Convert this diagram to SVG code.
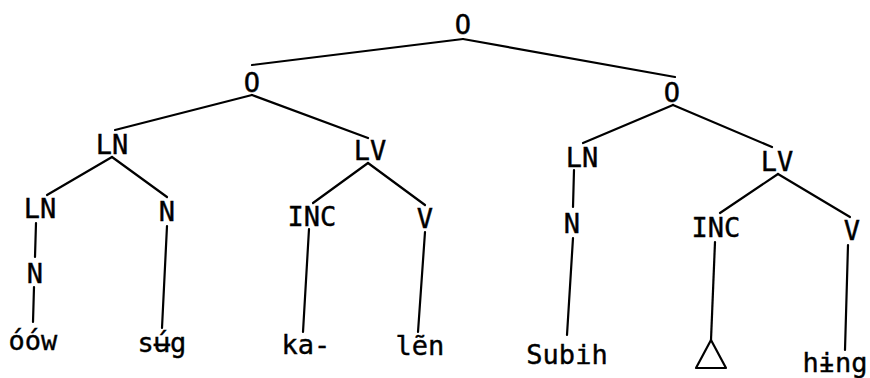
<svg xmlns="http://www.w3.org/2000/svg" width="870" height="378" viewBox="0 0 870 378">
  <style>
    .lbl { font-family: "DejaVu Sans Mono", "Liberation Mono", monospace; font-size: 27px; fill: #000; stroke: #000; stroke-width: 0.4; text-anchor: middle; }
    .edge { stroke: #000; stroke-width: 2.2; fill: none; stroke-linecap: round; }
  </style>
  <rect width="870" height="378" fill="#fff"/>

  <!-- connectors -->
  <g id="edges" class="edge">
    <line x1="463" y1="39" x2="252" y2="65"/>
    <line x1="463" y1="39" x2="675" y2="77"/>
    <line x1="252" y1="95" x2="115" y2="130"/>
    <line x1="252" y1="95" x2="368" y2="138"/>
    <line x1="112" y1="157" x2="47" y2="195"/>
    <line x1="112" y1="157" x2="167" y2="197"/>
    <line x1="368" y1="163" x2="313" y2="203"/>
    <line x1="368" y1="163" x2="425" y2="205"/>
    <line x1="36" y1="223" x2="35" y2="257"/>
    <line x1="34" y1="287" x2="33" y2="322"/>
    <line x1="167" y1="226" x2="162" y2="328"/>
    <line x1="309" y1="229" x2="303" y2="332"/>
    <line x1="425" y1="232" x2="418" y2="332"/>
    <line x1="673" y1="105" x2="583" y2="143"/>
    <line x1="673" y1="105" x2="772" y2="147"/>
    <line x1="574" y1="170" x2="573" y2="207"/>
    <line x1="573" y1="238" x2="567" y2="335"/>
    <line x1="778" y1="174" x2="720" y2="213"/>
    <line x1="778" y1="174" x2="850" y2="217"/>
    <line x1="715" y1="242" x2="711" y2="340"/>
    <line x1="848" y1="245" x2="845" y2="350"/>
  </g>

  <!-- nodes -->
  <g id="o-root"><text class="lbl" x="463" y="34">O</text></g>
  <g id="o-left"><text class="lbl" x="252" y="92">O</text></g>
  <g id="o-right"><text class="lbl" x="672" y="102">O</text></g>

  <g id="ln-1"><text class="lbl" x="112" y="154">LN</text></g>
  <g id="lv-1"><text class="lbl" x="370" y="160">LV</text></g>
  <g id="ln-2"><text class="lbl" x="40" y="218">LN</text></g>
  <g id="n-1"><text class="lbl" x="167" y="221">N</text></g>
  <g id="inc-1"><text class="lbl" x="312" y="226">INC</text></g>
  <g id="v-1"><text class="lbl" x="425" y="228">V</text></g>
  <g id="n-2"><text class="lbl" x="35" y="283">N</text></g>

  <g id="ln-3"><text class="lbl" x="582" y="167">LN</text></g>
  <g id="lv-2"><text class="lbl" x="777" y="171">LV</text></g>
  <g id="n-3"><text class="lbl" x="572" y="233">N</text></g>
  <g id="inc-2"><text class="lbl" x="716" y="237">INC</text></g>
  <g id="v-2"><text class="lbl" x="852" y="240">V</text></g>

  <!-- leaves -->
  <g id="w-oow"><text class="lbl" x="33" y="350">óów</text></g>
  <g id="w-sug"><text class="lbl" x="162" y="352">sʉ́g</text></g>
  <g id="w-ka"><text class="lbl" x="306" y="354">ka-</text></g>
  <g id="w-len"><text class="lbl" x="420" y="355">lẽn</text></g>
  <g id="w-subih"><text class="lbl" x="567" y="364">Subih</text></g>
  <g id="w-empty"><polygon class="edge" points="711,340 696,368 726,368" stroke-linejoin="round"/></g>
  <g id="w-hing"><text class="lbl" x="835" y="372">hɨng</text></g>
</svg>
